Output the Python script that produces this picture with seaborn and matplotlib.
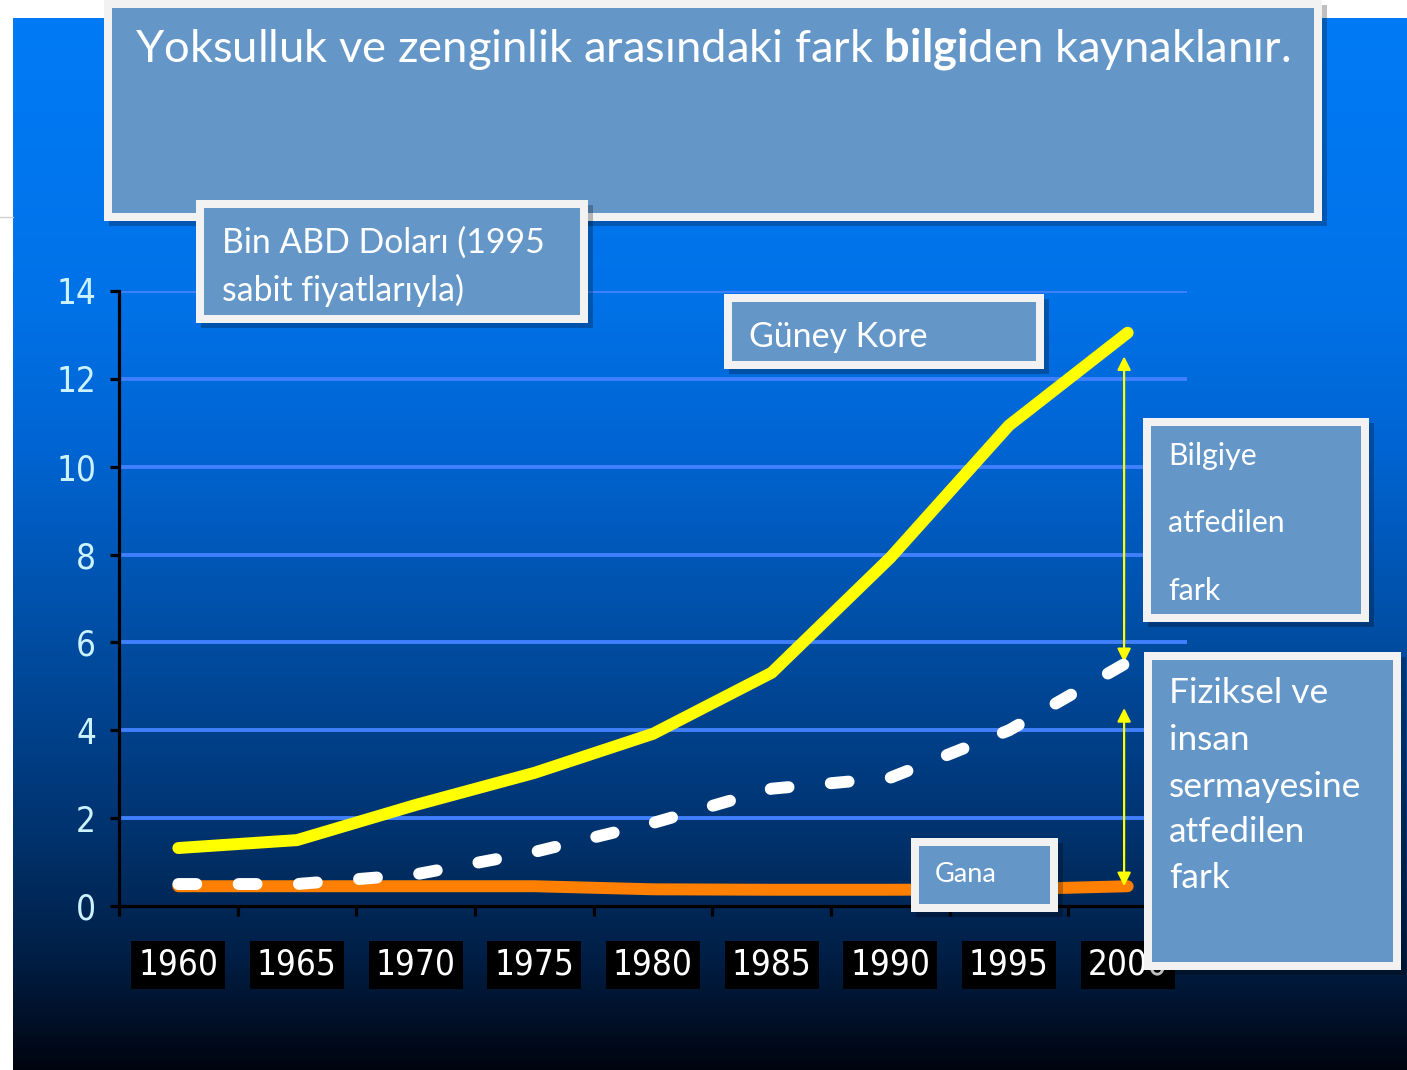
import matplotlib
matplotlib.use("Agg")
import matplotlib.pyplot as plt
from matplotlib import font_manager
from matplotlib.patches import Rectangle
import numpy as np
import pandas as pd
import seaborn as sns

# data (bin ABD doları, 1995 sabit fiyatlarıyla)
years = ["1960", "1965", "1970", "1975", "1980", "1985", "1990", "1995", "2000"]
korea = [1.32, 1.50, 2.30, 3.03, 3.92, 5.31, 7.93, 10.94, 13.05]
capital = [0.50, 0.50, 0.72, 1.23, 1.89, 2.67, 2.92, 4.00, 5.55]
ghana = [0.45, 0.45, 0.45, 0.45, 0.38, 0.37, 0.37, 0.38, 0.45]
y_ticks = [0, 2, 4, 6, 8, 10, 12, 14]

title_text = r"Yoksulluk ve zenginlik arasındaki fark $\mathbf{bilgi}$den kaynaklanır."
unit_lines = ["Bin ABD Doları (1995", "sabit fiyatlarıyla)"]
korea_label = "Güney Kore"
knowledge_lines = ["Bilgiye", "atfedilen", "fark"]
capital_lines = ["Fiziksel ve", "insan", "sermayesine", "atfedilen", "fark"]
ghana_label = "Gana"

W, H = 1407, 1070
sns.set_style("ticks")
plt.rcParams["font.family"] = ["Lato", "DejaVu Sans"]
plt.rcParams["mathtext.fontset"] = "custom"
plt.rcParams["mathtext.rm"] = "Lato"
plt.rcParams["mathtext.bf"] = "Lato:bold"

# narrow font for the axis numbers, whatever is available
fonts = font_manager.fontManager.ttflist
if any(f.name == "Liberation Sans Narrow" for f in fonts):
    tick_font = dict(family="Liberation Sans Narrow")
elif any(f.name == "DejaVu Sans" and f.stretch == "condensed" for f in fonts):
    tick_font = dict(family="DejaVu Sans", stretch="condensed")
else:
    tick_font = dict(family="Liberation Sans")

fig = plt.figure(figsize=(W / 100, H / 100), dpi=100, facecolor="white")
renderer = fig.canvas.get_renderer()

# background gradient panel
bg = fig.add_axes([0, 0, 1, 1], zorder=0)
bg.set_xlim(0, W)
bg.set_ylim(H, 0)
bg.axis("off")
stops_y = [18, 300, 450, 600, 750, 850, 950, 1010, 1070]
stops_c = np.array([
    (0, 123, 245), (0, 114, 232), (0, 100, 210), (0, 82, 172),
    (0, 62, 134), (0, 48, 104), (0, 32, 72), (0, 18, 44), (0, 4, 14),
]) / 255
yy = np.arange(18, 1070)
grad = np.stack([np.interp(yy, stops_y, stops_c[:, i]) for i in range(3)], axis=-1)
bg.imshow(grad[:, None, :], extent=(13, W, 1070, 18), aspect="auto")
bg.plot([0, 13], [217, 217], color="#d0d0d0", lw=1)


def fit_size(axes, s, target_w, size=20, **kw):
    t = axes.text(0, 0, s, fontsize=size, **kw)
    w = t.get_window_extent(renderer).width
    t.remove()
    return size * target_w / w


# chart
ax = fig.add_axes([119 / W, (H - 906) / H, (1187 - 119) / W, (906 - 291) / H], zorder=2)
ax.set_facecolor("none")
x = np.arange(len(years))
df = pd.DataFrame({"x": x, "korea": korea, "capital": capital, "ghana": ghana})

lw = 8.6
sns.lineplot(data=df, x="x", y="ghana", ax=ax, color="#FF7F00", lw=lw,
             solid_capstyle="round", zorder=3)
sns.lineplot(data=df, x="x", y="capital", ax=ax, color="white", lw=lw,
             linestyle=(0, (1.5, 3.55)), dash_capstyle="round", zorder=4)
sns.lineplot(data=df, x="x", y="korea", ax=ax, color="#FFFF00", lw=lw,
             solid_capstyle="round", zorder=4)

ax.set_xlim(-0.5, len(years) - 0.5)
ax.set_ylim(0, 14)
ax.set_xlabel("")
ax.set_ylabel("")
ax.grid(False)
for y in y_ticks[1:]:
    ax.axhline(y, color="#4080FF", lw=2.8, zorder=1)

for side in ["top", "right"]:
    ax.spines[side].set_visible(False)
for side in ["left", "bottom"]:
    ax.spines[side].set_color("black")
    ax.spines[side].set_linewidth(2.3)

tick_size = min(fit_size(ax, "1980", 80, **tick_font), 30)
ax.set_yticks(y_ticks)
ax.set_yticklabels([str(v) for v in y_ticks], fontsize=tick_size, color="#CCF2FF", **tick_font)
ax.tick_params(axis="y", length=6.5, width=2.3, color="black", pad=10)

ax.set_xticks(x)
ax.set_xticklabels(years, fontsize=tick_size, color="white", **tick_font)
ax.set_xticks(np.arange(-0.5, len(years), 1), minor=True)
ax.tick_params(axis="x", which="major", length=0, pad=30)
ax.tick_params(axis="x", which="minor", length=7, width=2.3, color="black", direction="out")
for lbl in ax.get_xticklabels():
    lbl.set_bbox(dict(facecolor="black", edgecolor="none", pad=5))

# arrows between the three series at 2000
xa = x[-1] - 0.03
ax.annotate("", xy=(xa, korea[-1]), xytext=(xa, capital[-1]),
            arrowprops=dict(arrowstyle="<|-|>", color="#FFFF00", lw=1.6,
                            mutation_scale=20, shrinkA=0, shrinkB=17))
ax.annotate("", xy=(xa, capital[-1]), xytext=(xa, ghana[-1]),
            arrowprops=dict(arrowstyle="<|-|>", color="#FFFF00", lw=1.6,
                            mutation_scale=20, shrinkA=0, shrinkB=33))

# text boxes in pixel coordinates
ov = fig.add_axes([0, 0, 1, 1], zorder=3)
ov.set_xlim(0, W)
ov.set_ylim(H, 0)
ov.axis("off")
ov.set_facecolor("none")


def draw_box(x0, y0, x1, y1, border=8):
    ov.add_patch(Rectangle((x0 + 5, y0 + 5), x1 - x0, y1 - y0, color="black", alpha=0.25, lw=0))
    ov.add_patch(Rectangle((x0, y0), x1 - x0, y1 - y0, color="#F2F2F2", lw=0))
    ov.add_patch(Rectangle((x0 + border, y0 + border), x1 - x0 - 2 * border,
                           y1 - y0 - 2 * border, color="#6497C8", lw=0))


def put_lines(x0, baselines, lines, size):
    for yb, s in zip(baselines, lines):
        ov.text(x0, yb, s, fontsize=size, color="white", va="baseline", ha="left")


draw_box(104, 0, 1322, 221)
put_lines(135, [62], [title_text], fit_size(ov, title_text, 1155, 30))

draw_box(196, 200, 588, 323)
put_lines(222, [253, 301], unit_lines, fit_size(ov, unit_lines[0], 323))

draw_box(724, 294, 1044, 369)
put_lines(749, [347], [korea_label], fit_size(ov, korea_label, 179))

draw_box(1143, 418, 1369, 622)
put_lines(1168, [465, 532, 600], knowledge_lines, fit_size(ov, knowledge_lines[1], 117))

draw_box(1144, 652, 1401, 970)
put_lines(1169, [703, 750, 797, 842, 888], capital_lines, fit_size(ov, capital_lines[2], 193))

draw_box(911, 838, 1058, 912)
put_lines(935, [882], [ghana_label], fit_size(ov, ghana_label, 62))

fig.savefig("out.png", dpi=100, facecolor="white")
